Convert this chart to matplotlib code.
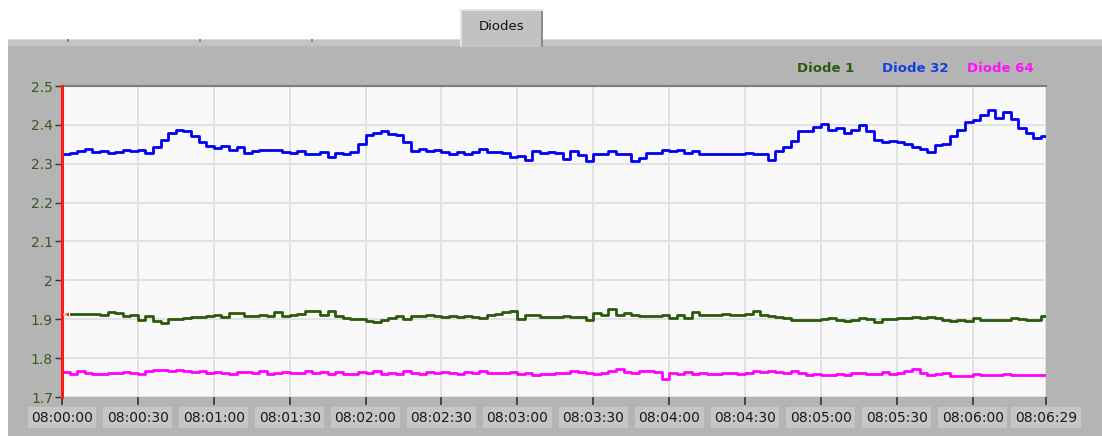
"""
LabVIEW-style strip chart: three diode voltages over ~6.5 minutes.
"""
import numpy as np
import matplotlib.pyplot as plt
import matplotlib as mpl
from matplotlib.patches import Rectangle

mpl.rcParams['font.family'] = 'DejaVu Sans'

W, H, DPI = 1102, 436, 100

# sample interval of the hand-read series (seconds)
SAMPLE_S = 3
END_S = 389

diode32 = [2.326, 2.328, 2.334, 2.338, 2.330, 2.333, 2.327, 2.331, 2.335, 2.333,
           2.336, 2.327, 2.344, 2.362, 2.380, 2.388, 2.384, 2.372, 2.356, 2.346,
           2.340, 2.345, 2.336, 2.342, 2.328, 2.334, 2.336, 2.335, 2.335, 2.331,
           2.327, 2.333, 2.326, 2.325, 2.330, 2.318, 2.328, 2.324, 2.330, 2.352,
           2.373, 2.378, 2.384, 2.376, 2.374, 2.356, 2.334, 2.338, 2.332, 2.336,
           2.330, 2.326, 2.329, 2.325, 2.330, 2.338, 2.329, 2.331, 2.327, 2.318,
           2.320, 2.310, 2.334, 2.328, 2.330, 2.327, 2.313, 2.332, 2.322, 2.308,
           2.325, 2.324, 2.333, 2.325, 2.326, 2.308, 2.314, 2.327, 2.328, 2.336,
           2.334, 2.336, 2.328, 2.334, 2.326, 2.325, 2.325, 2.326, 2.325, 2.325,
           2.327, 2.325, 2.325, 2.310, 2.334, 2.343, 2.358, 2.385, 2.384, 2.395,
           2.402, 2.388, 2.393, 2.380, 2.386, 2.400, 2.384, 2.362, 2.356, 2.358,
           2.355, 2.350, 2.342, 2.338, 2.330, 2.347, 2.350, 2.372, 2.388, 2.408,
           2.412, 2.425, 2.438, 2.418, 2.432, 2.415, 2.392, 2.378, 2.365, 2.372]

diode1 = [1.913, 1.913, 1.914, 1.913, 1.914, 1.911, 1.918, 1.916, 1.909, 1.910,
          1.898, 1.908, 1.896, 1.890, 1.901, 1.900, 1.902, 1.907, 1.905, 1.909,
          1.912, 1.905, 1.915, 1.917, 1.909, 1.908, 1.910, 1.909, 1.918, 1.909,
          1.912, 1.913, 1.920, 1.922, 1.912, 1.920, 1.909, 1.903, 1.901, 1.900,
          1.895, 1.892, 1.899, 1.903, 1.909, 1.900, 1.909, 1.908, 1.910, 1.909,
          1.907, 1.909, 1.905, 1.909, 1.906, 1.904, 1.912, 1.913, 1.918, 1.922,
          1.901, 1.910, 1.912, 1.907, 1.907, 1.906, 1.908, 1.907, 1.907, 1.898,
          1.915, 1.912, 1.926, 1.910, 1.915, 1.911, 1.909, 1.909, 1.908, 1.910,
          1.903, 1.911, 1.903, 1.918, 1.912, 1.910, 1.912, 1.913, 1.911, 1.912,
          1.914, 1.920, 1.910, 1.909, 1.905, 1.903, 1.897, 1.899, 1.898, 1.897,
          1.901, 1.904, 1.899, 1.896, 1.897, 1.903, 1.901, 1.892, 1.901, 1.900,
          1.902, 1.903, 1.907, 1.904, 1.906, 1.903, 1.899, 1.896, 1.897, 1.895,
          1.904, 1.899, 1.898, 1.899, 1.898, 1.902, 1.900, 1.899, 1.897, 1.908]

diode64 = [1.765, 1.760, 1.766, 1.762, 1.760, 1.758, 1.762, 1.761, 1.764, 1.762,
           1.758, 1.766, 1.769, 1.769, 1.768, 1.769, 1.768, 1.764, 1.766, 1.763,
           1.764, 1.762, 1.758, 1.764, 1.765, 1.763, 1.766, 1.758, 1.762, 1.765,
           1.763, 1.762, 1.767, 1.763, 1.764, 1.758, 1.765, 1.760, 1.759, 1.764,
           1.762, 1.766, 1.760, 1.761, 1.760, 1.766, 1.762, 1.758, 1.764, 1.762,
           1.765, 1.763, 1.760, 1.764, 1.762, 1.768, 1.763, 1.761, 1.763, 1.765,
           1.760, 1.762, 1.757, 1.760, 1.758, 1.762, 1.763, 1.768, 1.764, 1.763,
           1.760, 1.762, 1.768, 1.771, 1.765, 1.762, 1.766, 1.767, 1.765, 1.747,
           1.762, 1.760, 1.764, 1.760, 1.763, 1.759, 1.760, 1.762, 1.762, 1.760,
           1.763, 1.766, 1.764, 1.767, 1.765, 1.763, 1.767, 1.761, 1.757, 1.759,
           1.757, 1.757, 1.758, 1.757, 1.762, 1.763, 1.758, 1.760, 1.764, 1.760,
           1.761, 1.767, 1.771, 1.762, 1.757, 1.760, 1.762, 1.755, 1.754, 1.755,
           1.758, 1.756, 1.757, 1.757, 1.758, 1.756, 1.757, 1.756, 1.757, 1.757]

series_names = ['Diode 1', 'Diode 32', 'Diode 64']
series_colors = ['#2b5a0c', '#0000f0', '#ff00ff']
legend_colors = ['#2b5a0c', '#1040e0', '#ff10ff']

xticks = [0, 30, 60, 90, 120, 150, 180, 210, 240, 270, 300, 330, 360, 389]
xlabels = ['08:00:00', '08:00:30', '08:01:00', '08:01:30', '08:02:00', '08:02:30',
           '08:03:00', '08:03:30', '08:04:00', '08:04:30', '08:05:00', '08:05:30',
           '08:06:00', '08:06:29']
yticks = [1.7, 1.8, 1.9, 2.0, 2.1, 2.2, 2.3, 2.4, 2.5]
ylabels = ['1.7', '1.8', '1.9', '2', '2.1', '2.2', '2.3', '2.4', '2.5']

fig = plt.figure(figsize=(W / DPI, H / DPI), dpi=DPI)
fig.patch.set_facecolor('white')

def px_rect(x0, y0, x1, y1, z, **kw):
    # rectangle in figure pixels, y measured from the top; negative z keeps it under the axes
    fig.patches.append(Rectangle((x0 / W, 1 - y1 / H), (x1 - x0) / W, (y1 - y0) / H,
                                 transform=fig.transFigure, zorder=z, **kw))

# grey panel, tab strip and the "Diodes" tab
px_rect(8, 46, W, H, -5, facecolor='#b4b4b4', edgecolor='none')
px_rect(8, 39, W, 46, -5, facecolor='#c4c4c4', edgecolor='none')
px_rect(8, 39, W, 40.5, -4, facecolor='#dadada', edgecolor='none')
for nx in [67, 199, 311]:
    px_rect(nx, 39, nx + 2, 42, -3, facecolor='#8a8a8a', edgecolor='none')
px_rect(460, 9, 543, 47, -3, facecolor='#c2c2c2', edgecolor='none')
px_rect(460, 9, 462, 47, -2, facecolor='#e6e6e6', edgecolor='none')
px_rect(460, 9, 543, 11, -2, facecolor='#e6e6e6', edgecolor='none')
px_rect(541, 11, 543, 47, -2, facecolor='#8c8c8c', edgecolor='none')
fig.text(501.5 / W, 1 - 26 / H, 'Diodes', ha='center', va='center', fontsize=9.5,
         color='#111111')

# legend labels, top right of the panel
for name, col, xr in zip(series_names, legend_colors, [854, 948, 1034]):
    fig.text(xr / W, 1 - 69 / H, name, ha='right', va='center', fontsize=9.5,
             fontweight='bold', color=col)

ax = fig.add_axes([62 / W, 1 - 397 / H, (1046 - 62) / W, (397 - 86) / H])
ax.set_facecolor('#f9f9f9')

t = np.arange(len(diode1)) * SAMPLE_S
for vals, col in zip([diode1, diode32, diode64], series_colors):
    v = np.asarray(vals)
    ax.plot(np.append(t, END_S), np.append(v, v[-1]), drawstyle='steps-post',
            color=col, lw=2.0, zorder=3)

# cursor: red line at start and marker on Diode 1
ax.axvline(0, color='#ff1a1a', lw=2.2, zorder=4, clip_on=False)
ax.plot([1.5], [diode1[0]], marker='<', ms=5, color='#ff2020', mec='white', mew=0.8,
        zorder=5)

ax.set_xlim(0, END_S)
ax.set_ylim(1.7, 2.5)
ax.set_xticks(xticks)
ax.set_xticklabels(xlabels)
ax.set_yticks(yticks)
ax.set_yticklabels(ylabels)
ax.grid(True, color='#e2e2e2', lw=1.4)
ax.set_axisbelow(True)

ax.tick_params(axis='x', direction='out', length=6, width=1.2, color='#333333',
               pad=4, labelsize=10, labelcolor='#1a1a1a')
ax.tick_params(axis='y', direction='out', length=5, width=1.0, color='#333333',
               pad=1.5, labelsize=10, labelcolor='#3a5a1a')
for lab in ax.get_xticklabels():
    lab.set_bbox(dict(facecolor='#c6c6c6', edgecolor='none', pad=2.5))

for side in ['left', 'right', 'bottom']:
    ax.spines[side].set_visible(False)
ax.spines['top'].set_color('#7c7c7c')
ax.spines['top'].set_linewidth(1.5)

fig.savefig('out.png', dpi=DPI, facecolor=fig.get_facecolor())
